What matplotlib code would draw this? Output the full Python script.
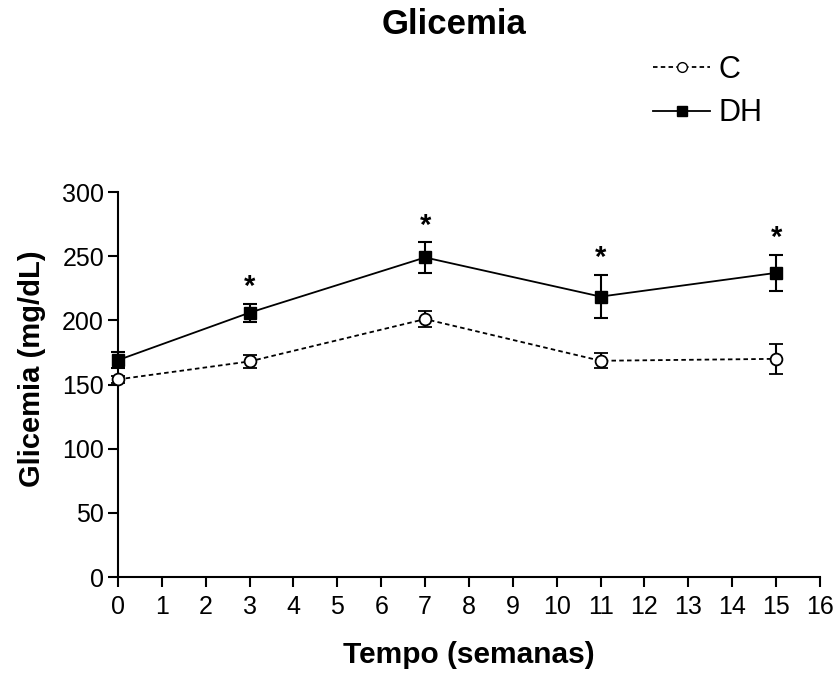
import numpy as np
import matplotlib.pyplot as plt
from matplotlib.lines import Line2D

plt.rcParams['font.family'] = ['Liberation Sans', 'DejaVu Sans']

# semanas
semanas = [0, 3, 7, 11, 15]

# grupo controle (C)
c_media = [154, 168, 201, 168.5, 170]
c_erro = [3, 5, 6.5, 6, 11.5]

# grupo DH
dh_media = [169, 206, 249, 218.5, 237]
dh_erro = [6, 7, 12, 17, 14]

# asteriscos (diferenca significativa)
sig_semanas = [3, 7, 11, 15]

fig = plt.figure(figsize=(8.35, 6.73), dpi=100)
ax = fig.add_axes([0.1413, 0.1426, 0.8407, 0.5721])

ax.errorbar(semanas, c_media, yerr=c_erro, color='black', lw=1.3,
            linestyle=(0, (2.5, 1.8)), marker='o', markersize=8.5,
            markerfacecolor='white', markeredgecolor='black', markeredgewidth=1.3,
            capsize=4.7, capthick=1.5, elinewidth=1.5, clip_on=False, zorder=3)
ax.errorbar(semanas, dh_media, yerr=dh_erro, color='black', lw=1.3,
            linestyle='-', marker='s', markersize=8.5,
            markerfacecolor='black', markeredgecolor='black',
            capsize=4.7, capthick=1.5, elinewidth=1.5, clip_on=False, zorder=4)

for s in sig_semanas:
    i = semanas.index(s)
    ax.text(s, dh_media[i] + dh_erro[i] + 2, '*', ha='center', va='bottom',
            fontsize=21, fontweight='bold')

ax.set_xlim(0, 16)
ax.set_ylim(0, 300)
ax.set_xticks(np.arange(0, 17, 1))
ax.set_yticks(np.arange(0, 301, 50))
ax.spines['top'].set_visible(False)
ax.spines['right'].set_visible(False)
ax.spines['left'].set_linewidth(1.5)
ax.spines['bottom'].set_linewidth(1.5)
ax.tick_params(direction='out', length=7, width=1.5, labelsize=18, pad=3)
ax.tick_params(axis='x', pad=6)

ax.set_ylabel('Glicemia (mg/dL)', fontsize=21, fontweight='bold')
ax.yaxis.set_label_coords(-0.102, 0.54)
ax.set_xlabel('Tempo (semanas)', fontsize=21.5, fontweight='bold', labelpad=16)
fig.text(0.544, 0.963, 'Glicemia', ha='center', va='center',
         fontsize=25, fontweight='bold')

handles = [
    Line2D([], [], color='black', lw=1.3, linestyle=(0, (2.5, 1.8)), marker='o',
           markersize=7, markerfacecolor='white', markeredgecolor='black'),
    Line2D([], [], color='black', lw=1.3, linestyle='-', marker='s',
           markersize=7.5, markerfacecolor='black'),
]
fig.legend(handles, ['C', 'DH'], loc='center left', bbox_to_anchor=(0.782, 0.864),
           frameon=False, fontsize=22, handlelength=1.87, handletextpad=0.26,
           labelspacing=0.45, borderpad=0, borderaxespad=0)

fig.savefig('out.png', dpi=100)
